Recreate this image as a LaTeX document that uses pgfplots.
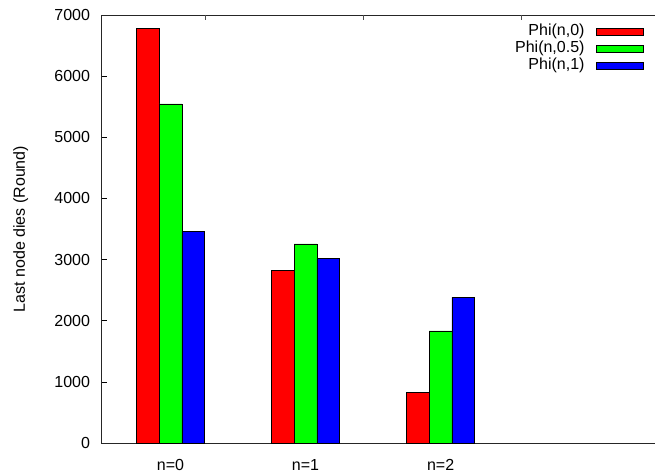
\documentclass[border=0pt]{standalone}
\usepackage{pgfplots}
\pgfplotsset{compat=1.18}
\usepackage{fontspec}
\setmainfont{Liberation Sans}
\begin{document}
\fontsize{16}{19}\selectfont
\begin{tikzpicture}
\begin{axis}[
  at={(0,0)}, anchor=south west,
  scale only axis, width=573.8pt, height=428pt,
  xmin=-0.51, xmax=3.74, ymin=0, ymax=7000,
  ytick={0,1000,...,7000},
  xtick={0,1,2}, xticklabels={n=0,n=1,n=2},
  x tick style={draw=none},
  xtick pos=left,
  y tick style={black, line width=0.6pt},
  major tick length=5.5pt, tick align=inside,
  axis line style={line width=0.8pt, black!85},
  /pgf/number format/assume math mode=true,
  /pgf/number format/1000 sep={},
  yticklabel style={inner sep=0pt, anchor=east, xshift=-11.5pt},
  xticklabel style={inner sep=0pt, anchor=base, yshift=-21.5pt},
  every axis y label/.style={at={(axis description cs:-0.1412,0.5)}, rotate=90, anchor=center},
  ylabel={Last node dies (Round)},
  ybar, bar width=22.7pt,
  legend plot pos=right,
  legend cell align=right,
  legend image code/.code={\path (0pt,0pt); \draw[#1, draw=black, line width=0.6pt] (11pt,-3.5pt) rectangle (58pt,3.5pt);},
  legend style={at={(0.9439,0.9810)}, anchor=north east, draw=none, fill=none, inner sep=0pt,
    nodes={inner sep=0pt, text height=12pt, text depth=5pt}},
]
\addplot[fill=red, draw=black, line width=0.6pt, bar shift=-22.7pt] coordinates {(0,6780) (1,2820) (2,830)};
\addplot[fill=green, draw=black, line width=0.6pt, bar shift=0pt] coordinates {(0,5545) (1,3255) (2,1832)};
\addplot[fill=blue, draw=black, line width=0.6pt, bar shift=22.7pt] coordinates {(0,3467) (1,3021) (2,2383)};
\legend{Phi(n{,}0),Phi(n{,}0.5),Phi(n{,}1)}
\end{axis}
\begin{axis}[
  at={(0,0)}, anchor=south west,
  scale only axis, width=573.8pt, height=428pt,
  xmin=-0.51, xmax=3.74, ymin=0, ymax=7000,
  hide y axis,
  axis x line*=top,
  xtick={0.26,1.43,2.6}, xticklabels={},
  major tick length=5pt, tick align=inside,
  x tick style={black!70, line width=0.6pt},
  axis line style={draw=none},
]
\end{axis}
\pgfresetboundingbox
\path (-101.7pt,-29pt) rectangle (553.3pt,443pt);
\end{tikzpicture}
\end{document}
